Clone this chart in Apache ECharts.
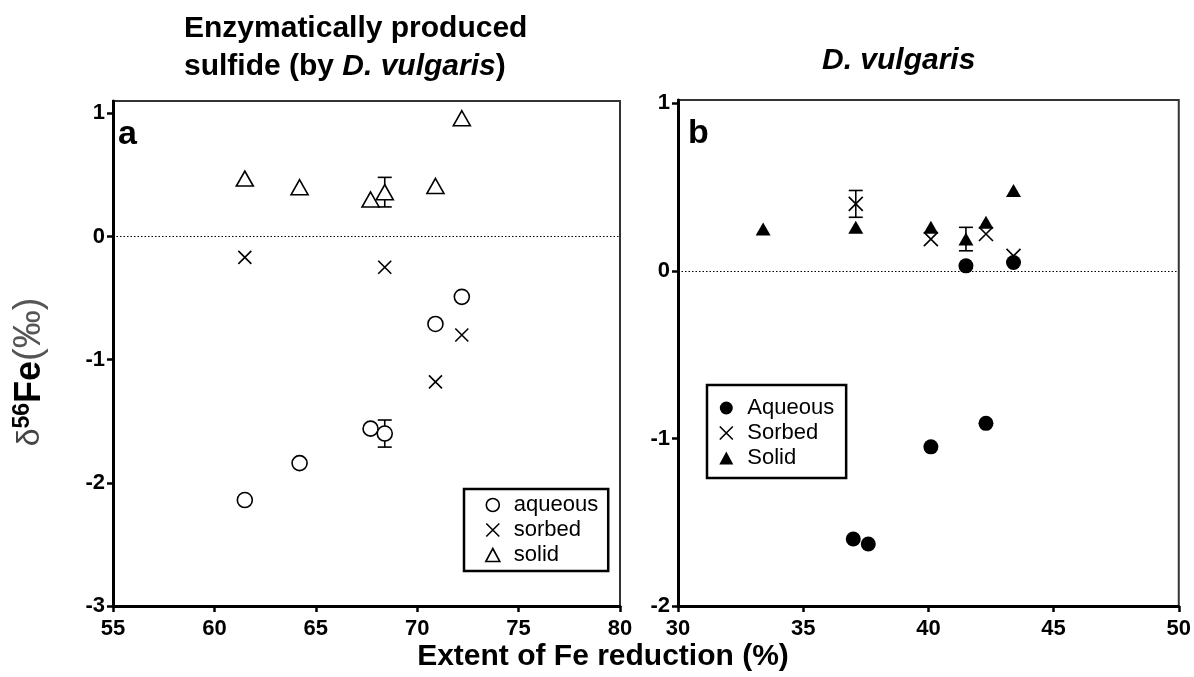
<!DOCTYPE html>
<html><head><meta charset="utf-8">
<script src="https://cdn.jsdelivr.net/npm/echarts@6/dist/echarts.min.js"></script>
<style>html,body{margin:0;padding:0;background:#fff}#c{width:1194px;height:677px}</style>
</head><body><div id="c"></div>
<script>
const FONT = '"Liberation Sans", Arial, Helvetica, sans-serif';

// Panel a: enzymatically produced sulfide
const aAqueous = [[61.5,-2.14],[64.2,-1.84],[67.7,-1.56],[68.4,-1.60],[70.9,-0.71],[72.2,-0.49]];
const aSorbed  = [[61.5,-0.17],[68.4,-0.25],[70.9,-1.18],[72.2,-0.80]];
const aSolid   = [[61.5,0.47],[64.2,0.40],[67.7,0.30],[68.4,0.36],[70.9,0.41],[72.2,0.96]];
const aErrors  = [[68.4,-1.60,0.11],[68.4,0.36,0.12]];
const aYTicks  = [-3,-2,-1,0,1];
const aNames   = ['aqueous','sorbed','solid'];

// Panel b: D. vulgaris
const bAqueous = [[37.0,-1.60],[37.6,-1.63],[40.1,-1.05],[41.5,0.03],[42.3,-0.91],[43.4,0.05]];
const bSorbed  = [[37.1,0.40],[40.1,0.19],[42.3,0.22],[43.4,0.09]];
const bSolid   = [[33.4,0.25],[37.1,0.26],[40.1,0.26],[41.5,0.19],[42.3,0.29],[43.4,0.48]];
const bErrors  = [[37.1,0.40,0.08],[41.5,0.19,0.07]];
const bYTicks  = [-2,-1,0,1];
const bNames   = ['Aqueous','Sorbed','Solid'];

const CROSS = 'path://M0,0L10,10M10,0L0,10';
const openStyle = {color:'#fff', borderColor:'#000', borderWidth:1.6, opacity:1};
const crossStyle = {color:'transparent', borderColor:'#000', borderWidth:1.6, opacity:1};
const fillStyle = {color:'#000', borderWidth:0, opacity:1};

function axisBase() {
  return {
    axisLine:{show:true, onZero:false, lineStyle:{color:'#000', width:3}},
    axisTick:{show:true, length:6, lineStyle:{color:'#000', width:2.5}},
    axisLabel:{color:'#000', fontFamily:FONT, fontSize:22, fontWeight:'bold', margin:12},
    splitLine:{show:false}
  };
}
function xAx(idx, min, max) {
  const a = axisBase();
  return Object.assign(a, {type:'value', gridIndex:idx, min, max, interval:5});
}
function yAx(idx, min, max, ticks) {
  const a = axisBase();
  a.axisTick.customValues = ticks;
  a.axisLabel.customValues = ticks;
  a.axisLabel.margin = 8;
  return Object.assign(a, {type:'value', gridIndex:idx, min, max});
}
function scatter(name, data, idx, symbol, size, style, zeroLine) {
  const s = {type:'scatter', name, data, xAxisIndex:idx, yAxisIndex:idx, symbol, symbolSize:size,
    itemStyle:style, z:3, emphasis:{disabled:true}};
  if (zeroLine) s.markLine = {silent:true, symbol:['none','none'], label:{show:false},
    lineStyle:{type:[1.5,2], color:'#000', width:1}, data:[{yAxis:0}]};
  return s;
}
function errorBars(data, idx) {
  return {type:'custom', data, xAxisIndex:idx, yAxisIndex:idx, z:2, silent:true,
    renderItem(params, api) {
      const x = api.value(0), y = api.value(1), e = api.value(2);
      const t = api.coord([x, y + e]), b = api.coord([x, y - e]);
      const w = 7, st = {stroke:'#000', lineWidth:1.6};
      return {type:'group', children:[
        {type:'line', shape:{x1:t[0], y1:t[1], x2:b[0], y2:b[1]}, style:st},
        {type:'line', shape:{x1:t[0]-w, y1:t[1], x2:t[0]+w, y2:t[1]}, style:st},
        {type:'line', shape:{x1:b[0]-w, y1:b[1], x2:b[0]+w, y2:b[1]}, style:st}
      ]};
    }};
}
function legendBox(names, icons, styles, left, top, padding) {
  return {orient:'vertical', left, top, padding, itemWidth:14, itemHeight:13, itemGap:3,
    borderColor:'#000', borderWidth:2.5, selectedMode:false,
    textStyle:{fontFamily:FONT, fontSize:22, color:'#000', lineHeight:22, padding:[0,0,0,9]},
    data:names.map((n,i)=>({name:n, icon:icons[i], itemStyle:styles[i]}))};
}

const chart = echarts.init(document.getElementById('c'));
chart.setOption({
  animation:false,
  backgroundColor:'#fff',
  grid:[
    {left:113, top:101, width:507, height:505, show:true, borderColor:'#333', borderWidth:2, backgroundColor:'transparent'},
    {left:678, top:100, width:504, height:506, show:true, borderColor:'#333', borderWidth:2, backgroundColor:'transparent'}
  ],
  xAxis:[xAx(0,55,80), xAx(1,30,50)],
  yAxis:[yAx(0,-3,1.1,aYTicks), yAx(1,-2,1.02,bYTicks)],
  legend:[
    legendBox(aNames, ['circle',CROSS,'triangle'], [openStyle,crossStyle,openStyle], 464, 489, [5,10,5,21]),
    legendBox(bNames, ['circle',CROSS,'triangle'], [fillStyle,crossStyle,fillStyle], 707, 385, [12,12,9,12])
  ],
  series:[
    errorBars(aErrors,0),
    scatter(aNames[0], aAqueous, 0, 'circle', 15, openStyle, true),
    scatter(aNames[1], aSorbed, 0, CROSS, 13, crossStyle),
    scatter(aNames[2], aSolid, 0, 'triangle', [17,15], openStyle),
    errorBars(bErrors,1),
    scatter(bNames[0], bAqueous, 1, 'circle', 15, fillStyle, true),
    scatter(bNames[1], bSorbed, 1, CROSS, 14, crossStyle),
    scatter(bNames[2], bSolid, 1, 'triangle', [15,13], fillStyle)
  ],
  graphic:[
    {type:'text', left:184, top:14, style:{text:'Enzymatically produced', fontFamily:FONT, fontSize:30, fontWeight:'bold', fill:'#000'}},
    {type:'text', left:184, top:52, style:{text:'{n|sulfide (by }{i|D. vulgaris}{n|)}', fill:'#000',
      rich:{n:{fontFamily:FONT, fontSize:30, fontWeight:'bold'}, i:{fontFamily:FONT, fontSize:30, fontWeight:'bold', fontStyle:'italic'}}}},
    {type:'text', left:822, top:46, style:{text:'D. vulgaris', fontFamily:FONT, fontSize:30, fontWeight:'bold', fontStyle:'italic', fill:'#000'}},
    {type:'text', left:118, top:118, style:{text:'a', fontFamily:FONT, fontSize:34, fontWeight:'bold', fill:'#000'}},
    {type:'text', left:688, top:117, style:{text:'b', fontFamily:FONT, fontSize:34, fontWeight:'bold', fill:'#000'}},
    {type:'text', x:603, y:657, style:{text:'Extent of Fe reduction (%)', fontFamily:FONT, fontSize:30, fontWeight:'bold', fill:'#000', align:'center', verticalAlign:'middle'}},
    {type:'text', x:30, y:372, rotation:Math.PI/2, style:{text:'{d|δ}{s|56}{f|Fe}{p|(‰)}', align:'center', verticalAlign:'middle',
      rich:{d:{fontFamily:FONT, fontSize:32, fill:'#444', lineHeight:38},
            s:{fontFamily:FONT, fontSize:23, fontWeight:'bold', fill:'#000', verticalAlign:'top', lineHeight:38},
            f:{fontFamily:FONT, fontSize:36, fontWeight:'bold', fill:'#000', lineHeight:38},
            p:{fontFamily:FONT, fontSize:38, fill:'#555', lineHeight:38}}}}
  ]
});
</script></body></html>
